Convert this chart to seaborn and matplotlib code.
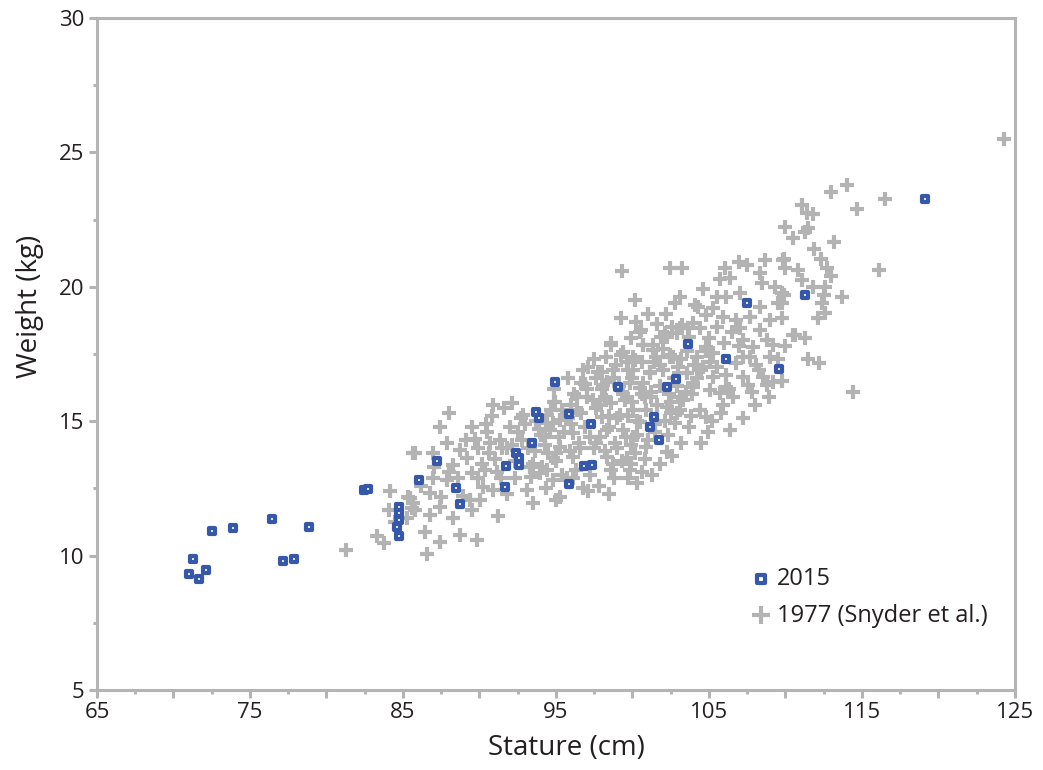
import matplotlib
matplotlib.use("Agg")
import matplotlib.pyplot as plt
from matplotlib.ticker import MultipleLocator, FuncFormatter
import seaborn as sns
import pandas as pd

# ---- 2015 sample (blue squares) ----
stature_2015 = [70.99, 71.25, 71.67, 72.14, 72.49, 73.87, 76.46, 77.18, 77.91, 78.83,
                82.45, 82.71, 84.76, 84.76, 84.76, 84.63, 84.76, 86.07, 87.22, 88.44,
                88.74, 91.69, 91.73, 92.40, 92.60, 92.56, 93.43, 93.69, 93.87, 94.95,
                95.85, 95.83, 96.83, 97.37, 97.27, 99.03, 101.14, 101.40, 101.75, 102.23,
                102.82, 103.63, 106.13, 107.50, 109.59, 111.25, 119.10]
weight_2015 = [9.30, 9.88, 9.12, 9.46, 10.90, 11.01, 11.36, 9.81, 9.88, 11.05,
               12.44, 12.48, 11.82, 11.57, 11.32, 11.08, 10.73, 12.81, 13.51, 12.53,
               11.91, 12.54, 13.34, 13.83, 13.62, 13.37, 14.18, 15.35, 15.11, 16.45,
               15.28, 12.65, 13.34, 13.38, 14.90, 16.28, 14.77, 15.14, 14.31, 16.28,
               16.57, 17.87, 17.30, 19.41, 16.95, 19.71, 23.28]

# ---- 1977 sample, Snyder et al. (grey crosses) ----
stature_1977 = [
    85.67, 84.15, 85.35, 85.67, 84.10, 85.24, 84.48, 83.28, 83.76, 81.27, 85.78,
    90.90, 92.16, 94.87, 88.00, 90.79, 92.86, 87.42, 92.53, 94.38, 89.71,
    87.85, 91.34, 90.69, 88.73, 89.92, 85.78, 86.98, 91.77, 89.16, 88.29,
    90.36, 91.12, 89.49, 93.30, 93.95, 86.98, 92.32, 87.85, 90.25, 90.90,
    86.76, 87.52, 85.46, 89.38, 90.03, 93.08, 94.38, 87.42, 85.57, 89.49,
    86.76, 88.29, 91.23, 93.52, 86.44, 88.73, 87.42, 89.81, 86.54, 95.03,
    94.82, 94.28, 95.03, 93.40,
    100.50, 102.10, 98.63, 99.28, 100.70, 101.35, 100.16, 102.45, 97.11, 97.76,
    95.80, 99.72, 101.14, 96.67, 98.10, 99.84, 100.50, 94.93, 96.35, 97.44,
    98.63, 99.62, 102.55, 94.39, 95.26, 96.67, 97.98, 99.18, 100.05, 100.50,
    102.55, 94.61, 96.13, 98.31, 99.40, 100.05, 102.78, 94.28, 95.26, 97.65,
    98.86, 100.92, 102.23, 94.82, 96.13, 98.31, 99.62, 94.39, 98.63, 99.84,
    94.82, 96.78, 100.27, 95.26, 101.90, 98.30,
    107.00, 107.46, 108.66, 109.86, 102.45, 103.21, 106.05, 106.37, 108.33, 108.44,
    109.31, 109.75, 103.10, 102.78, 105.50, 106.15, 107.03, 104.30, 105.28, 108.33,
    109.53, 104.84, 105.93, 106.80, 107.68, 108.99, 110.50, 103.10, 104.41, 105.50,
    107.03, 108.33, 102.23, 103.73, 107.25, 108.77, 104.84, 107.90, 109.20, 102.45,
    104.19, 105.28, 107.25, 108.99, 104.62, 106.80, 108.11, 103.54, 105.28, 106.15,
    107.25, 108.55, 109.20, 103.97, 105.06, 106.15, 107.56, 108.77, 103.10, 105.72,
    103.10, 104.41, 105.93, 108.00, 104.84, 103.73, 104.96, 106.37, 102.23,
    114.00, 113.00, 116.50, 111.10, 111.40, 111.80, 114.70, 109.97, 111.50, 111.30,
    110.50, 113.20, 111.90, 109.90, 112.36, 110.00, 110.80, 112.70, 113.00, 116.10,
    111.10, 111.80, 112.60, 109.90, 112.50, 113.70, 112.40, 109.75, 112.60, 112.10,
    109.75, 110.60, 111.30, 111.50, 112.20, 109.75, 114.40, 124.28,
    104.08, 99.28, 100.26, 100.59, 102.12, 103.21, 103.65, 98.63, 99.40, 100.70,
    101.35, 97.98, 100.05, 100.60, 101.57, 101.80, 102.67, 102.90, 103.97, 99.62,
    100.05, 101.14, 98.70, 98.31, 100.70, 103.54, 103.97,
    96.0, 96.5, 97.0, 97.5, 98.0, 98.5, 99.0, 99.5, 100.0, 100.3,
    100.8, 101.2, 101.6, 102.0, 102.3, 95.5, 95.0, 94.0, 93.6, 93.0,
    92.8, 96.3, 97.2, 97.8, 98.8, 99.3, 99.9, 100.6, 101.0, 101.8,
    102.6, 103.2, 103.8, 104.5, 105.2, 105.8, 106.6, 107.2, 107.8, 108.3,
    108.9, 109.5, 110.0, 106.0, 106.5, 105.0, 104.0, 103.5, 102.9, 96.8,
    97.5, 98.9, 99.9, 101.6, 102.2, 104.6, 105.7, 100.2, 101.0, 99.3,
    96.9, 97.9, 98.2, 99.7, 101.3, 101.5, 102.9, 96.1, 95.4, 93.7,
    92.0, 91.5, 92.3, 91.0, 90.5, 89.5, 95.9, 97.1, 98.5,
    93.2, 93.9, 94.5, 95.2, 95.8, 96.4, 97.0, 97.6, 98.2, 98.8,
    99.4, 100.0, 100.6, 101.2, 101.8, 102.4, 103.0, 103.6, 104.2, 104.8,
    93.5, 94.1, 94.7, 95.4, 96.0, 96.6, 97.2, 97.9, 98.5, 99.1,
    99.7, 100.3, 100.9, 101.5, 102.1, 102.7, 103.3, 103.9, 104.5, 105.1,
    96.2, 96.9, 97.6, 98.3, 99.0, 99.6, 100.2, 100.8, 101.4, 102.0,
    102.6, 103.2, 105.5, 106.3, 107.0, 107.7, 95.7, 94.9, 98.7, 99.9,
    88.6, 89.1, 89.9, 90.6, 91.4, 92.1, 88.0, 90.2, 91.8, 92.7,
    86.2, 87.0, 88.9, 90.4, 91.6,
]
weight_1977 = [
    13.80, 12.41, 12.19, 11.94, 11.70, 11.39, 11.26, 10.73, 10.48, 10.21, 11.70,
    15.60, 15.69, 15.73, 15.29, 15.19, 15.23, 14.80, 14.61, 14.92, 14.34,
    14.18, 14.30, 14.18, 13.93, 13.99, 13.83, 13.80, 13.99, 13.62, 13.37,
    13.18, 13.12, 13.06, 13.31, 13.06, 12.87, 12.87, 12.81, 12.56, 12.44,
    12.32, 12.19, 12.13, 12.07, 12.07, 12.44, 12.50, 11.82, 11.76, 11.70,
    11.51, 11.39, 11.47, 11.97, 10.89, 10.77, 10.52, 10.58, 10.05, 12.07,
    14.92, 14.41, 13.81, 12.94,
    18.33, 18.21, 17.83, 17.46, 17.83, 17.65, 17.28, 17.46, 17.03, 16.84,
    16.60, 16.90, 16.78, 16.41, 16.35, 16.41, 16.22, 15.73, 15.91, 15.79,
    15.67, 15.91, 15.73, 15.23, 15.04, 15.29, 15.17, 15.23, 15.42, 14.98,
    15.29, 14.67, 14.55, 14.67, 14.67, 14.42, 14.92, 14.11, 14.05, 14.18,
    14.18, 14.05, 13.87, 13.62, 13.68, 13.68, 13.62, 13.18, 13.18, 13.18,
    12.81, 12.50, 12.69, 12.19, 18.14, 17.40,
    20.94, 20.81, 21.00, 21.00, 20.69, 20.69, 20.69, 20.32, 20.50, 20.13,
    20.00, 19.76, 19.63, 19.39, 19.63, 19.63, 19.76, 19.26, 19.20, 19.26,
    19.39, 18.95, 18.89, 18.76, 18.89, 18.76, 18.21, 18.45, 18.45, 18.51,
    18.45, 18.39, 18.14, 18.14, 18.02, 18.02, 17.77, 17.77, 17.83, 17.40,
    17.40, 17.53, 17.40, 17.40, 17.03, 17.15, 17.09, 16.78, 16.66, 16.72,
    16.66, 16.66, 16.47, 16.28, 16.16, 16.28, 16.35, 16.35, 15.91, 16.04,
    15.42, 15.42, 15.60, 15.60, 15.17, 14.80, 14.61, 14.67, 15.54,
    23.80, 23.51, 23.28, 23.05, 22.73, 22.71, 22.89, 22.21, 22.18, 22.05,
    21.80, 21.67, 21.40, 21.02, 21.02, 20.69, 20.63, 20.69, 20.40, 20.63,
    20.25, 20.00, 20.00, 19.69, 19.69, 19.61, 19.39, 19.39, 19.04, 18.83,
    18.83, 18.21, 18.08, 17.30, 17.18, 16.51, 16.10, 25.50,
    19.32, 18.83, 18.70, 18.39, 18.27, 18.58, 18.45, 17.90, 17.59, 17.83,
    17.83, 16.84, 17.40, 17.21, 17.40, 17.09, 17.40, 18.27, 18.64, 17.21,
    16.90, 16.84, 16.90, 16.47, 16.41, 16.78, 16.41,
    15.6, 14.2, 15.9, 14.0, 16.2, 15.2, 14.0, 15.8, 16.6, 15.0,
    13.6, 16.1, 15.6, 16.9, 14.5, 14.6, 13.5, 14.5, 13.9, 14.9,
    14.3, 13.2, 13.0, 12.6, 12.9, 13.5, 14.1, 13.1, 14.3, 13.4,
    13.7, 14.2, 15.2, 14.2, 15.0, 15.3, 15.9, 15.1, 16.1, 16.9,
    15.9, 17.3, 17.8, 17.9, 18.3, 18.1, 17.1, 16.1, 15.3, 16.9,
    17.3, 17.1, 18.1, 18.6, 19.0, 19.9, 20.3, 19.5, 19.0, 20.6,
    14.8, 14.4, 13.9, 12.9, 13.0, 14.9, 16.3, 12.9, 15.4, 15.0,
    14.8, 14.0, 13.5, 13.6, 14.6, 14.8, 13.9, 12.4, 12.3,
    14.0, 14.7, 13.8, 14.4, 15.1, 15.4, 16.2, 15.5, 15.9, 16.6,
    16.0, 15.7, 16.0, 15.9, 16.3, 16.0, 17.0, 17.6, 16.6, 17.6,
    13.4, 13.3, 15.4, 13.0, 14.9, 14.0, 14.4, 15.6, 14.8, 16.3,
    15.2, 14.5, 15.4, 14.6, 15.0, 16.6, 15.8, 16.0, 16.9, 17.2,
    16.0, 16.4, 16.6, 15.8, 15.1, 14.4, 13.8, 15.9, 17.2, 17.7,
    18.5, 17.3, 17.0, 16.2, 17.8, 17.4, 12.9, 16.2, 13.4, 13.4,
    12.9, 14.3, 12.9, 13.8, 12.9, 14.1, 13.1, 13.4, 12.3, 15.1,
    12.6, 13.3, 12.2, 14.9, 15.5,
]

series_labels = ["2015", "1977 (Snyder et al.)"]
x_tick_labels = ["65", "75", "85", "95", "105", "115", "125"]
y_tick_labels = ["5", "10", "15", "20", "25", "30"]

df15 = pd.DataFrame({"Stature": stature_2015, "Weight": weight_2015})
df77 = pd.DataFrame({"Stature": stature_1977, "Weight": weight_1977})

sns.set_theme(style="white")
plt.rcParams["font.family"] = ["Open Sans", "DejaVu Sans"]

AX_GREY = "#b4b4b4"
BLUE = "#3658ab"
PLUS_GREY = "#b3b3b3"
TXT = "#231f20"

fig = plt.figure(figsize=(10.43, 7.70), dpi=100)
ax = fig.add_axes([0.093, 0.104, 0.880, 0.8726])

sns.scatterplot(data=df77, x="Stature", y="Weight", ax=ax, marker="+",
                s=100, color=PLUS_GREY, linewidth=3.0, label=series_labels[1], zorder=2)
sns.scatterplot(data=df15, x="Stature", y="Weight", ax=ax, marker="s",
                s=24, facecolor="white", edgecolor=BLUE, linewidth=3.0,
                label=series_labels[0], zorder=3)

ax.set_xlim(65, 125)
ax.set_ylim(5, 30)

ax.xaxis.set_major_locator(MultipleLocator(5))
ax.xaxis.set_minor_locator(MultipleLocator(2.5))
ax.yaxis.set_major_locator(MultipleLocator(5))
ax.yaxis.set_minor_locator(MultipleLocator(2.5))

xlab = {float(t): t for t in x_tick_labels}
ax.xaxis.set_major_formatter(FuncFormatter(lambda v, p: xlab.get(round(v, 1), "")))
ylab = {float(t): t for t in y_tick_labels}
ax.yaxis.set_major_formatter(FuncFormatter(lambda v, p: ylab.get(round(v, 1), "")))

for sp in ax.spines.values():
    sp.set_visible(True)
    sp.set_color(AX_GREY)
    sp.set_linewidth(2.2)

ax.tick_params(which="major", direction="out", length=6, width=2.2, color=AX_GREY,
               labelsize=16, labelcolor=TXT, pad=3,
               bottom=True, left=True, top=False, right=False)
ax.tick_params(which="minor", direction="out", length=3, width=2.2, color=AX_GREY,
               bottom=True, left=True, top=False, right=False)

ax.set_xlabel("Stature (cm)", fontsize=20, color=TXT)
ax.set_ylabel("Weight (kg)", fontsize=20, color=TXT)
ax.xaxis.set_label_coords(0.512, -0.066)
ax.yaxis.set_label_coords(-0.058, 0.571)

handles, labels = ax.get_legend_handles_labels()
order = [labels.index(series_labels[0]), labels.index(series_labels[1])]
leg = ax.legend([handles[i] for i in order], [labels[i] for i in order],
                loc="upper left", bbox_to_anchor=(0.687, 0.214), frameon=False,
                fontsize=17, handlelength=1.0, handletextpad=0.2,
                labelspacing=0.52, markerscale=1.25, labelcolor=TXT)

fig.savefig("out.png", dpi=100)
